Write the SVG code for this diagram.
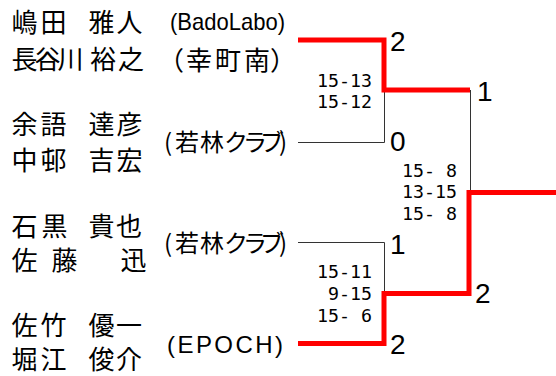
<svg xmlns="http://www.w3.org/2000/svg" width="556" height="376" viewBox="0 0 556 376">
<style>
.nm{font-family:"Noto Sans CJK JP","Noto Sans CJK SC",sans-serif;font-size:26px;fill:#000}
.cl{font-family:"Noto Sans CJK JP","Noto Sans CJK SC",sans-serif;font-size:24px;fill:#000}
.lat{font-family:"Liberation Sans",Arial,sans-serif;font-size:24px;fill:#000}
.sc{font-family:"DejaVu Sans Mono","Liberation Mono",monospace;font-size:18.5px;fill:#000;text-anchor:end}
.res{font-family:"Liberation Sans",Arial,sans-serif;font-size:28px;fill:#000}
.win{fill:none;stroke:#ff0000;stroke-width:5;stroke-linejoin:miter}
.lose{fill:none;stroke:#333;stroke-width:1}
</style>
<rect width="556" height="376" fill="#fff"/>
<g id="connectors">
<path class="lose" d="M298,142.5 H384.5 V90"/>
<path class="lose" d="M470.5,90 V192"/>
<path class="lose" d="M298,242.5 H384.5 V293"/>
<path class="win" d="M298,40 H384 V90 H470"/>
<path class="win" d="M298,343.5 H384 V293.5 H469 V192.5 H556"/>
</g>
<g id="pair1">
<text class="nm" x="11.5 40.5 88.5 116.5" y="32">嶋田雅人</text>
<text class="nm" x="11.5 34.5 57.5 90 118" y="69">長谷川裕之</text>
<text class="lat" x="170" y="30" textLength="115" lengthAdjust="spacingAndGlyphs">(BadoLabo)</text>
<text class="cl" x="158 186 215 244 270" y="70" style="font-size:26px">（幸町南）</text>
</g>
<g id="pair2">
<text class="nm" x="11.5 40.5 88.5 116.5" y="134">余語達彦</text>
<text class="nm" x="11.5 40.5 88.5 116.5" y="170">中邨吉宏</text>
<text class="cl" x="164 175 200 224 243 260 279" y="151">(若林クラブ)</text>
</g>
<g id="pair3">
<text class="nm" x="11.5 41.5 88.5 116" y="236">石黒貴也</text>
<text class="nm" x="11.5 51.5 120.5" y="270">佐藤迅</text>
<text class="cl" x="164 175 200 224 243 260 279" y="252">(若林クラブ)</text>
</g>
<g id="pair4">
<text class="nm" x="11.5 40.5 88.5 116" y="335">佐竹優一</text>
<text class="nm" x="11.5 40.5 88.5 116" y="369">堀江俊介</text>
<text class="lat" x="167" y="353" textLength="116" lengthAdjust="spacing">(EPOCH)</text>
</g>
<g id="scores">
<text class="sc" x="372" y="87" textLength="55" lengthAdjust="spacingAndGlyphs">15-13</text>
<text class="sc" x="372" y="108" textLength="55" lengthAdjust="spacingAndGlyphs">15-12</text>
<text class="sc" x="457" y="177" textLength="55" lengthAdjust="spacingAndGlyphs">15- 8</text>
<text class="sc" x="457" y="198" textLength="55" lengthAdjust="spacingAndGlyphs">13-15</text>
<text class="sc" x="457" y="220" textLength="55" lengthAdjust="spacingAndGlyphs">15- 8</text>
<text class="sc" x="372" y="278" textLength="55" lengthAdjust="spacingAndGlyphs">15-11</text>
<text class="sc" x="372" y="300" textLength="44" lengthAdjust="spacingAndGlyphs">9-15</text>
<text class="sc" x="372" y="322" textLength="55" lengthAdjust="spacingAndGlyphs">15- 6</text>
</g>
<g id="results">
<text class="res" x="390" y="51">2</text>
<text class="res" x="390" y="151">0</text>
<text class="res" x="477" y="101">1</text>
<text class="res" x="390" y="254">1</text>
<text class="res" x="475" y="303">2</text>
<text class="res" x="390" y="354">2</text>
</g>
</svg>
